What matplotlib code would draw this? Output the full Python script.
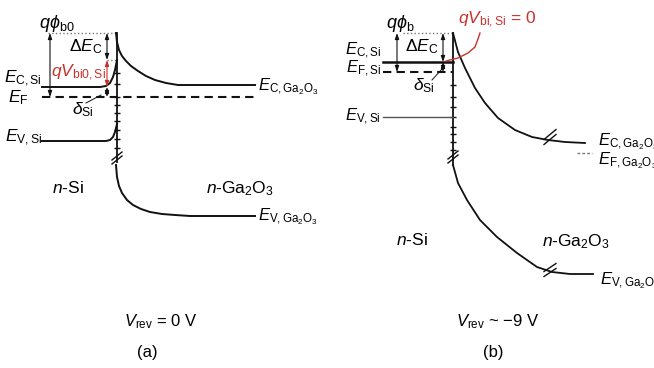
import numpy as np
import matplotlib
matplotlib.use('Agg')
import matplotlib.pyplot as plt

plt.rcParams['font.family'] = ['Liberation Sans', 'DejaVu Sans']
plt.rcParams['mathtext.fontset'] = 'custom'
plt.rcParams['mathtext.rm'] = 'Liberation Sans'
plt.rcParams['mathtext.it'] = 'Liberation Sans:italic'
plt.rcParams['mathtext.bf'] = 'Liberation Sans:bold'

RED = '#c8322d'
K = '#111111'

# ---- panel (a): V_rev = 0 V  (pixel coordinates, y down) ----
a_iface = 117
a_top = 33            # q phi_b0 reference
a_ecsi_bent = 60      # Ec,Si at interface
a_ecsi = 87
a_ef = 97
a_evsi = 141
a_break = 158

a_ecga_x = [116, 117, 119, 122, 126, 131, 138, 146, 155, 166, 178, 190, 255]
a_ecga_y = [33, 42, 50, 56, 61, 66, 71, 76, 80, 83, 85, 85, 85]
a_evga_x = [116, 117, 119, 122, 127, 133, 141, 150, 162, 175, 190, 255]
a_evga_y = [165, 177, 186, 193, 200, 205, 209, 212, 214, 215, 216, 216]
a_ecsi_x = [42, 100, 106, 110, 113, 115, 117]
a_ecsi_y = [87, 87, 86, 83, 77, 70, 60]
a_evsi_x = [42, 106, 110, 113, 115, 117]
a_evsi_y = [141, 141, 140, 137, 132, 124]
a_ticks = [73, 84, 97, 105, 113, 121, 130, 139, 148]

# ---- panel (b): V_rev ~ -9 V ----
b_iface = 453
b_top = 33
b_ecsi = 62
b_ef = 72
b_evsi = 117
b_ecga_x = [453, 458, 465, 475, 485, 498, 515, 532, 548, 565, 585]
b_ecga_y = [33, 52, 68, 88, 103, 118, 130, 137, 140, 142, 143]
b_evga_x = [453, 458, 467, 480, 497, 517, 537, 552, 570, 593]
b_evga_y = [165, 183, 200, 220, 237, 253, 267, 272, 274, 274]
b_red_x = [446, 458, 468, 475, 478, 480]
b_red_y = [61, 58, 53, 47, 39, 33]
b_ticks = [85, 97, 107, 117, 127, 134, 142, 150]

fig = plt.figure(figsize=(6.54, 3.68), dpi=100)
ax = fig.add_axes([0, 0, 1, 1])
ax.set_xlim(0, 654)
ax.set_ylim(368, 0)
ax.axis('off')


def arrow(x, y1, y2, color=K, lw=0.8):
    ax.annotate('', xy=(x, y2), xytext=(x, y1),
                arrowprops=dict(arrowstyle='<|-|>,head_length=0.35,head_width=0.12',
                                color=color, lw=lw, shrinkA=0, shrinkB=0))


def brk(x, y, dx=5, dy=4, gap=4):
    for off in (-gap / 2, gap / 2):
        ax.plot([x - dx, x + dx], [y + off + dy, y + off - dy], color=K, lw=1.0)


# ===== panel (a) =====
ax.plot([48, a_iface], [a_top, a_top], ls=':', color='#777777', lw=1.0)
ax.plot([107, a_iface], [a_ecsi_bent, a_ecsi_bent], ls=':', color='#777777', lw=1.0)
ax.plot([a_iface, a_iface], [a_top, a_break + 4], color=K, lw=1.3)
ax.hlines(a_ticks, a_iface - 3, a_iface + 3, color=K, lw=1.0)
ax.plot(a_ecga_x, a_ecga_y, color=K, lw=1.4)
ax.plot(a_evga_x, a_evga_y, color=K, lw=1.4)
ax.plot(a_ecsi_x, a_ecsi_y, color=K, lw=1.4)
ax.plot(a_evsi_x, a_evsi_y, color=K, lw=1.4)
ax.plot([42, 256], [a_ef, a_ef], ls=(0, (4, 2.5)), color=K, lw=1.5)
brk(a_iface, a_break)

arrow(50, a_top, a_ef)
arrow(107, a_top, a_ecsi_bent)
arrow(107, a_ecsi_bent, a_ecsi, color=RED)
arrow(107, a_ecsi, a_ef)
ax.plot([86, 101], [103, 95], color=K, lw=0.7)

ax.text(57, 24, r'$q\phi_{\mathrm{b0}}$', fontsize=13, ha='center', va='center')
ax.text(86, 47, r'$\Delta E_{\mathrm{C}}$', fontsize=12.5, ha='center', va='center')
ax.text(78, 73, r'$qV_{\mathrm{bi0,Si}}$', fontsize=12.5, ha='center', va='center', color=RED)
ax.text(42, 79, r'$E_{\mathrm{C,Si}}$', fontsize=12.5, ha='right', va='center')
ax.text(8, 98, r'$E_{\mathrm{F}}$', fontsize=12.5, ha='left', va='center')
ax.text(83, 110, r'$\delta_{\mathrm{Si}}$', fontsize=12.5, ha='center', va='center')
ax.text(42, 138, r'$E_{\mathrm{V,Si}}$', fontsize=12.5, ha='right', va='center')
ax.text(258, 87, r'$E_{\mathrm{C,Ga_2O_3}}$', fontsize=12, ha='left', va='center')
ax.text(258, 217, r'$E_{\mathrm{V,Ga_2O_3}}$', fontsize=12, ha='left', va='center')
ax.text(68, 188, r'$n$-Si', fontsize=12.5, ha='center', va='center')
ax.text(240, 189, r'$n$-Ga$_2$O$_3$', fontsize=12.5, ha='center', va='center')
ax.text(161, 322, r'$V_{\mathrm{rev}}$ = 0 V', fontsize=12, ha='center', va='center')
ax.text(147, 352, '(a)', fontsize=12, ha='center', va='center')

# ===== panel (b) =====
ax.plot([403, b_iface], [b_top, b_top], ls=':', color='#777777', lw=1.0)
ax.plot([b_iface, b_iface], [b_top, 165], color=K, lw=1.3)
ax.hlines(b_ticks, b_iface - 3, b_iface + 3, color=K, lw=1.0)
ax.plot([383, b_iface], [b_ecsi, b_ecsi], color=K, lw=1.8)
ax.plot([383, b_iface], [b_ef, b_ef], ls=(0, (4, 2.5)), color=K, lw=1.5)
ax.plot([383, b_iface], [b_evsi, b_evsi], color='#555555', lw=1.0)
ax.plot(b_ecga_x, b_ecga_y, color=K, lw=1.3)
ax.plot(b_evga_x, b_evga_y, color=K, lw=1.3)
ax.plot([577, 592], [153, 153], ls=(0, (2, 1.5)), color='#777777', lw=1.0)
ax.plot(b_red_x, b_red_y, color=RED, lw=1.0)
brk(b_iface, 157)
brk(550, 137, dx=6, dy=5, gap=5)
brk(550, 270, dx=6, dy=4, gap=5)

arrow(397, b_top, b_ef)
arrow(443, b_top, b_ecsi)
arrow(443, b_ecsi, b_ef)
ax.plot([432, 442], [80, 69], color=K, lw=0.7)

ax.text(400, 23, r'$q\phi_{\mathrm{b}}$', fontsize=13, ha='center', va='center')
ax.text(497, 20, r'$qV_{\mathrm{bi,Si}}$ = 0', fontsize=12.5, ha='center', va='center', color=RED)
ax.text(422, 47, r'$\Delta E_{\mathrm{C}}$', fontsize=12.5, ha='center', va='center')
ax.text(424, 86, r'$\delta_{\mathrm{Si}}$', fontsize=12.5, ha='center', va='center')
ax.text(381, 51, r'$E_{\mathrm{C,Si}}$', fontsize=12, ha='right', va='center')
ax.text(381, 69, r'$E_{\mathrm{F,Si}}$', fontsize=12, ha='right', va='center')
ax.text(381, 117, r'$E_{\mathrm{V,Si}}$', fontsize=12, ha='right', va='center')
ax.text(598, 142, r'$E_{\mathrm{C,Ga_2O_3}}$', fontsize=12, ha='left', va='center')
ax.text(598, 161, r'$E_{\mathrm{F,Ga_2O_3}}$', fontsize=12, ha='left', va='center')
ax.text(600, 281, r'$E_{\mathrm{V,Ga_2O_3}}$', fontsize=12, ha='left', va='center')
ax.text(412, 240, r'$n$-Si', fontsize=12.5, ha='center', va='center')
ax.text(576, 242, r'$n$-Ga$_2$O$_3$', fontsize=12.5, ha='center', va='center')
ax.text(498, 322, r'$V_{\mathrm{rev}}$ ~ −9 V', fontsize=12, ha='center', va='center')
ax.text(493, 352, '(b)', fontsize=12, ha='center', va='center')

fig.savefig('out.png', dpi=100)
